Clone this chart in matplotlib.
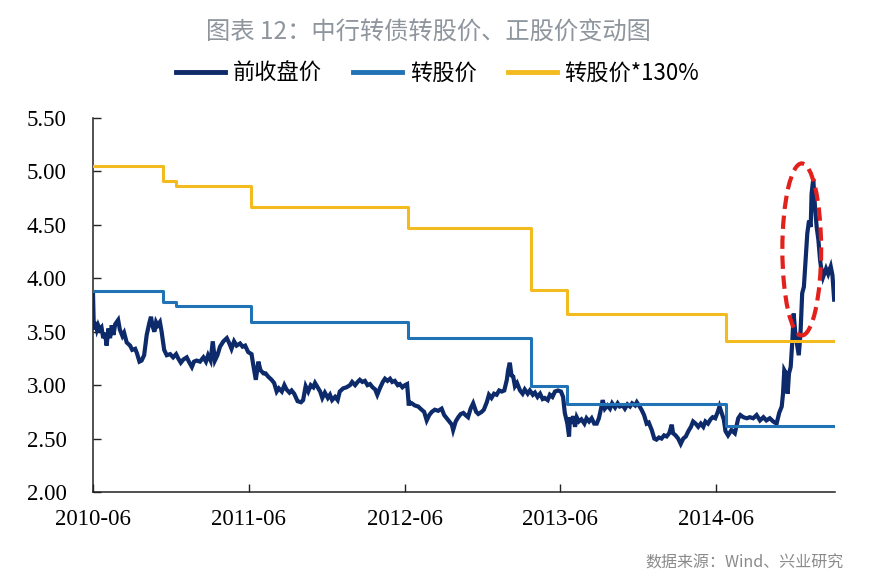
import matplotlib
matplotlib.use('Agg')
import matplotlib.pyplot as plt
import matplotlib.dates as mdates
from matplotlib.patches import Ellipse
import pandas as pd

# 前收盘价
close_dates = [
    '2010-06-02', '2010-06-04', '2010-06-07', '2010-06-11', '2010-06-14', '2010-06-18', '2010-06-22', '2010-06-26',
    '2010-06-30', '2010-07-04', '2010-07-08', '2010-07-12', '2010-07-16', '2010-07-20', '2010-07-24', '2010-07-31',
    '2010-08-04', '2010-08-10', '2010-08-14', '2010-08-20', '2010-08-28', '2010-09-02', '2010-09-09', '2010-09-13',
    '2010-09-19', '2010-09-24', '2010-09-30', '2010-10-06', '2010-10-12', '2010-10-16', '2010-10-20', '2010-10-24',
    '2010-10-28', '2010-11-01', '2010-11-06', '2010-11-10', '2010-11-16', '2010-11-22', '2010-11-30', '2010-12-07',
    '2010-12-14', '2010-12-19', '2010-12-25', '2010-12-31', '2011-01-08', '2011-01-13', '2011-01-20', '2011-01-25',
    '2011-01-31', '2011-02-08', '2011-02-16', '2011-02-22', '2011-02-27', '2011-03-05', '2011-03-10', '2011-03-15',
    '2011-03-21', '2011-03-27', '2011-04-04', '2011-04-12', '2011-04-18', '2011-04-23', '2011-04-29', '2011-05-05',
    '2011-05-13', '2011-05-19', '2011-05-25', '2011-06-01', '2011-06-09', '2011-06-13', '2011-06-19', '2011-06-25',
    '2011-06-30', '2011-07-07', '2011-07-12', '2011-07-18', '2011-07-26', '2011-08-01', '2011-08-07', '2011-08-12',
    '2011-08-19', '2011-08-25', '2011-08-30', '2011-09-06', '2011-09-11', '2011-09-17', '2011-09-25', '2011-10-03',
    '2011-10-08', '2011-10-14', '2011-10-20', '2011-10-26', '2011-11-01', '2011-11-05', '2011-11-11', '2011-11-17',
    '2011-11-22', '2011-11-28', '2011-12-05', '2011-12-10', '2011-12-15', '2011-12-22', '2011-12-28', '2012-01-02',
    '2012-01-10', '2012-01-18', '2012-01-26', '2012-01-31', '2012-02-07', '2012-02-13', '2012-02-18', '2012-02-24',
    '2012-03-01', '2012-03-07', '2012-03-13', '2012-03-19', '2012-03-25', '2012-03-30', '2012-04-05', '2012-04-12',
    '2012-04-17', '2012-04-23', '2012-04-29', '2012-05-04', '2012-05-10', '2012-05-17', '2012-05-22', '2012-05-28',
    '2012-06-03', '2012-06-08', '2012-06-12', '2012-06-13', '2012-06-19', '2012-06-26', '2012-07-04', '2012-07-12',
    '2012-07-18', '2012-07-24', '2012-07-30', '2012-08-05', '2012-08-12', '2012-08-20', '2012-08-28', '2012-09-03',
    '2012-09-09', '2012-09-15', '2012-09-21', '2012-09-24', '2012-09-30', '2012-10-06', '2012-10-12', '2012-10-18',
    '2012-10-23', '2012-10-29', '2012-11-04', '2012-11-10', '2012-11-17', '2012-11-22', '2012-11-30', '2012-12-05',
    '2012-12-12', '2012-12-17', '2012-12-23', '2012-12-29', '2013-01-04', '2013-01-10', '2013-01-16', '2013-01-22',
    '2013-01-28', '2013-01-31', '2013-02-04', '2013-02-08', '2013-02-12', '2013-02-16', '2013-02-21', '2013-02-28',
    '2013-03-06', '2013-03-11', '2013-03-18', '2013-03-23', '2013-03-30', '2013-04-04', '2013-04-10', '2013-04-16',
    '2013-04-22', '2013-04-27', '2013-05-04', '2013-05-09', '2013-05-15', '2013-05-21', '2013-05-28', '2013-06-04',
    '2013-06-09', '2013-06-13', '2013-06-19', '2013-06-23', '2013-06-25', '2013-06-29', '2013-07-03', '2013-07-07',
    '2013-07-11', '2013-07-16', '2013-07-22', '2013-07-29', '2013-08-03', '2013-08-09', '2013-08-15', '2013-08-21',
    '2013-08-27', '2013-09-01', '2013-09-06', '2013-09-10', '2013-09-15', '2013-09-21', '2013-09-27', '2013-10-02',
    '2013-10-09', '2013-10-15', '2013-10-20', '2013-10-27', '2013-11-01', '2013-11-07', '2013-11-13', '2013-11-18',
    '2013-11-25', '2013-11-29', '2013-12-04', '2013-12-10', '2013-12-16', '2013-12-22', '2013-12-27', '2014-01-03',
    '2014-01-09', '2014-01-14', '2014-01-20', '2014-01-26', '2014-02-01', '2014-02-07', '2014-02-13', '2014-02-19',
    '2014-02-22', '2014-02-28', '2014-03-06', '2014-03-12', '2014-03-18', '2014-03-24', '2014-03-30', '2014-04-05',
    '2014-04-10', '2014-04-16', '2014-04-22', '2014-04-28', '2014-05-04', '2014-05-09', '2014-05-15', '2014-05-21',
    '2014-05-26', '2014-06-01', '2014-06-07', '2014-06-11', '2014-06-16', '2014-06-21', '2014-06-25', '2014-07-01',
    '2014-07-09', '2014-07-17', '2014-07-25', '2014-07-30', '2014-08-06', '2014-08-14', '2014-08-21', '2014-08-29',
    '2014-09-06', '2014-09-14', '2014-09-22', '2014-09-29', '2014-10-07', '2014-10-15', '2014-10-23', '2014-10-29',
    '2014-11-04', '2014-11-07', '2014-11-10', '2014-11-14', '2014-11-18', '2014-11-21', '2014-11-25', '2014-11-29',
    '2014-12-02', '2014-12-06', '2014-12-10', '2014-12-14', '2014-12-18', '2014-12-22', '2014-12-26', '2014-12-30',
    '2015-01-03', '2015-01-07', '2015-01-11', '2015-01-13', '2015-01-17', '2015-01-21', '2015-01-25', '2015-01-29',
    '2015-02-02', '2015-02-04', '2015-02-09', '2015-02-16', '2015-02-21', '2015-02-27', '2015-03-03', '2015-03-07',
]
close_vals = [
    3.86, 3.52, 3.59, 3.52, 3.56, 3.52, 3.54, 3.44,
    3.49, 3.37, 3.53, 3.44, 3.56, 3.47, 3.57, 3.61,
    3.52, 3.46, 3.49, 3.40, 3.37, 3.33, 3.34, 3.30,
    3.22, 3.23, 3.28, 3.47, 3.58, 3.64, 3.55, 3.50,
    3.59, 3.56, 3.59, 3.50, 3.33, 3.28, 3.29, 3.26,
    3.29, 3.25, 3.21, 3.24, 3.26, 3.22, 3.17, 3.22,
    3.23, 3.22, 3.26, 3.22, 3.28, 3.23, 3.41, 3.23,
    3.28, 3.36, 3.41, 3.44, 3.39, 3.34, 3.41, 3.37,
    3.39, 3.36, 3.37, 3.31, 3.29, 3.19, 3.05, 3.22,
    3.14, 3.11, 3.11, 3.08, 3.05, 3.02, 2.94, 2.97,
    2.94, 3.00, 2.96, 2.93, 2.95, 2.92, 2.85, 2.84,
    2.86, 2.99, 2.94, 3.00, 2.98, 3.02, 2.98, 2.94,
    2.88, 2.93, 2.88, 2.91, 2.86, 2.89, 2.86, 2.94,
    2.97, 2.98, 3.00, 3.03, 3.00, 3.03, 3.05, 3.03,
    3.04, 3.00, 3.01, 2.98, 2.96, 2.91, 2.97, 3.03,
    3.06, 3.04, 3.06, 3.03, 3.04, 3.00, 3.01, 2.98,
    3.00, 3.01, 2.81, 2.84, 2.83, 2.81, 2.80, 2.77,
    2.75, 2.67, 2.72, 2.75, 2.77, 2.76, 2.78, 2.72,
    2.69, 2.66, 2.63, 2.58, 2.66, 2.70, 2.73, 2.74,
    2.72, 2.70, 2.78, 2.83, 2.75, 2.73, 2.75, 2.77,
    2.84, 2.91, 2.88, 2.92, 2.91, 2.95, 2.94, 2.95,
    3.05, 3.14, 3.21, 3.09, 3.08, 2.99, 3.02, 2.95,
    2.92, 2.96, 2.92, 2.95, 2.91, 2.93, 2.89, 2.92,
    2.87, 2.88, 2.86, 2.91, 2.89, 2.94, 2.95, 2.94,
    2.89, 2.74, 2.64, 2.52, 2.70, 2.64, 2.71, 2.61,
    2.70, 2.66, 2.68, 2.64, 2.69, 2.66, 2.69, 2.64,
    2.64, 2.69, 2.78, 2.86, 2.78, 2.81, 2.78, 2.83,
    2.79, 2.83, 2.80, 2.81, 2.78, 2.82, 2.80, 2.83,
    2.81, 2.84, 2.81, 2.77, 2.72, 2.64, 2.65, 2.58,
    2.50, 2.49, 2.51, 2.50, 2.53, 2.52, 2.55, 2.63,
    2.55, 2.53, 2.50, 2.45, 2.50, 2.52, 2.57, 2.61,
    2.66, 2.64, 2.61, 2.64, 2.61, 2.66, 2.64, 2.68,
    2.70, 2.69, 2.75, 2.80, 2.74, 2.68, 2.57, 2.53,
    2.58, 2.55, 2.69, 2.72, 2.70, 2.69, 2.70, 2.69,
    2.72, 2.67, 2.70, 2.67, 2.69, 2.66, 2.64, 2.74,
    2.80, 2.92, 3.14, 3.11, 2.92, 3.11, 3.17, 3.42,
    3.67, 3.48, 3.38, 3.28, 3.48, 3.86, 3.92, 4.17,
    4.42, 4.54, 4.48, 4.79, 4.93, 4.67, 4.48, 4.36,
    4.17, 4.11, 4.01, 4.09, 4.04, 4.11, 4.03, 3.80,
]

# 转股价 / 转股价*130% step changes
step_dates = ['2010-06-02', '2010-11-13', '2010-12-14', '2011-06-08', '2012-06-10',
              '2013-03-26', '2013-06-18', '2014-06-26', '2015-03-09']
conv_price = [3.88, 3.78, 3.74, 3.59, 3.44, 2.99, 2.82, 2.62, 2.62]
conv_130 = [5.05, 4.91, 4.86, 4.67, 4.47, 3.89, 3.67, 3.41, 3.41]

tick_dates = ['2010-06-02', '2011-06-02', '2012-06-02', '2013-06-02', '2014-06-02']
tick_labels = ['2010-06', '2011-06', '2012-06', '2013-06', '2014-06']
y_ticks = [2.0, 2.5, 3.0, 3.5, 4.0, 4.5, 5.0, 5.5]

cjk = ['Noto Sans CJK SC', 'DejaVu Sans']
serif = 'Liberation Serif'

fig = plt.figure(figsize=(8.72, 5.88), dpi=100)
ax = fig.add_axes([93/872, 1-492/588, (835-93)/872, (492-118)/588])

cd = pd.to_datetime(close_dates)
sd = pd.to_datetime(step_dates)
ax.plot(cd, close_vals, color='#0d2a6a', lw=3.0, label='前收盘价', zorder=2,
        solid_joinstyle='miter')
ax.plot(sd, conv_price, drawstyle='steps-post', color='#2272b6', lw=2.2, label='转股价', zorder=3)
ax.plot(sd, conv_130, drawstyle='steps-post', color='#f4bb1e', lw=2.2, label='转股价*130%', zorder=3)

# highlight
xc = mdates.date2num(pd.Timestamp('2014-12-21'))
ax.add_patch(Ellipse((xc, 4.27), 91, 1.61, fill=False, ec='#e3211c', lw=3,
                     ls=(0, (3.2, 1.6)), zorder=4))

ax.set_xlim(pd.Timestamp('2010-06-02'), pd.Timestamp('2015-03-09'))
ax.set_ylim(2.0, 5.5)
ax.set_xticks(pd.to_datetime(tick_dates))
ax.set_xticklabels(tick_labels)
ax.set_yticks(y_ticks)
ax.set_yticklabels(['%.2f' % v for v in y_ticks])
for lab in ax.get_xticklabels() + ax.get_yticklabels():
    lab.set_fontfamily(serif)
    lab.set_fontsize(16.5)
ax.tick_params(axis='both', direction='in', length=6, width=1, color='#222222')
ax.tick_params(axis='y', pad=19)
ax.tick_params(axis='x', pad=12)
for s in ['top', 'right']:
    ax.spines[s].set_visible(False)
for s in ['left', 'bottom']:
    ax.spines[s].set_color('#222222')
    ax.spines[s].set_linewidth(1.1)

fig.text(0.491, 1-32/588, '图表 12：中行转债转股价、正股价变动图', ha='center', va='center',
         fontsize=17.5, color='#8e959d', family=cjk)
leg = fig.legend(loc='center', bbox_to_anchor=(0.502, 1-73/588), ncol=3, frameon=False,
                 prop={'family': cjk, 'size': 16}, handlelength=2.2, handletextpad=0.35,
                 columnspacing=1.4)
for ln in leg.get_lines():
    ln.set_linewidth(3.5)
fig.text(0.967, 1-563/588, '数据来源：Wind、兴业研究', ha='right', va='center',
         fontsize=11.5, color='#8a8a8a', family=cjk)

fig.savefig('out.png', dpi=100)
